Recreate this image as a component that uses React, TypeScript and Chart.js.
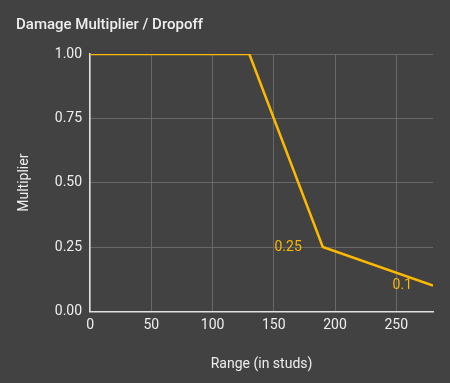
import React, { useEffect, useRef } from "react";
import { Chart, registerables } from "chart.js";

Chart.register(...registerables);

const xValues = [0, 130, 190, 280];
const yValues = [1, 1, 0.25, 0.1];
const pointLabels = ["", "", "0.25", "0.1"];
const chartTitle = "Damage Multiplier / Dropoff";
const xTitle = "Range (in studs)";
const yTitle = "Multiplier";

const LINE = "#FDB800";
const TEXT = "#EEEEEE";
const BG = "#424242";

const labelPlugin = {
  id: "pointLabels",
  afterDatasetsDraw(chart: any) {
    const ctx = chart.ctx;
    const meta = chart.getDatasetMeta(0);
    ctx.save();
    ctx.fillStyle = LINE;
    ctx.font = "14px Roboto";
    ctx.textAlign = "right";
    ctx.textBaseline = "middle";
    meta.data.forEach((pt: any, i: number) => {
      const t = pointLabels[i];
      if (t) ctx.fillText(t, pt.x - 21, pt.y);
    });
    ctx.restore();
  },
};

export default function App() {
  const ref = useRef<HTMLCanvasElement>(null);
  useEffect(() => {
    document.body.style.margin = "0";
    const chart = new Chart(ref.current!, {
      type: "line",
      data: {
        datasets: [
          {
            data: xValues.map((x, i) => ({ x, y: yValues[i] })),
            borderColor: LINE,
            borderWidth: 2.5,
            pointRadius: 0,
            tension: 0,
            fill: false,
          },
        ],
      },
      options: {
        animation: false,
        responsive: false,
        maintainAspectRatio: false,
        layout: { padding: { left: 16, right: 17, top: 4, bottom: 10 } },
        plugins: {
          legend: { display: false },
          tooltip: { enabled: false },
          title: {
            display: true,
            text: chartTitle,
            align: "start",
            color: TEXT,
            font: { family: "Roboto", size: 15, weight: "500" },
            padding: { top: 12, bottom: 20 },
          },
        },
        scales: {
          x: {
            type: "linear",
            min: 0,
            max: 280,
            afterBuildTicks: (s: any) => {
              s.ticks = s.ticks.filter((t: any) => t.value % 50 === 0);
            },
            ticks: {
              stepSize: 50,
              color: TEXT,
              font: { family: "Roboto", size: 14 },
              padding: 6,
              maxRotation: 0,
            },
            grid: { color: "#686868", drawTicks: false },
            border: { color: "#E0E0E0", width: 1.5 },
            title: {
              display: true,
              text: xTitle,
              color: TEXT,
              font: { family: "Roboto", size: 14 },
              padding: { top: 16, bottom: 0 },
            },
          },
          y: {
            min: 0,
            max: 1,
            ticks: {
              stepSize: 0.25,
              color: TEXT,
              font: { family: "Roboto", size: 14 },
              padding: 8,
              callback: (v: any) => Number(v).toFixed(2),
            },
            grid: { color: "#686868", drawTicks: false },
            border: { color: "#E0E0E0", width: 1.5 },
            title: {
              display: true,
              text: yTitle,
              color: TEXT,
              font: { family: "Roboto", size: 14 },
              padding: { top: 0, bottom: 14 },
            },
          },
        },
      },
      plugins: [labelPlugin],
    });
    return () => chart.destroy();
  }, []);
  return (
    <div style={{ width: 450, height: 383, background: BG }}>
      <canvas ref={ref} width={450} height={383} style={{ display: "block" }} />
    </div>
  );
}
